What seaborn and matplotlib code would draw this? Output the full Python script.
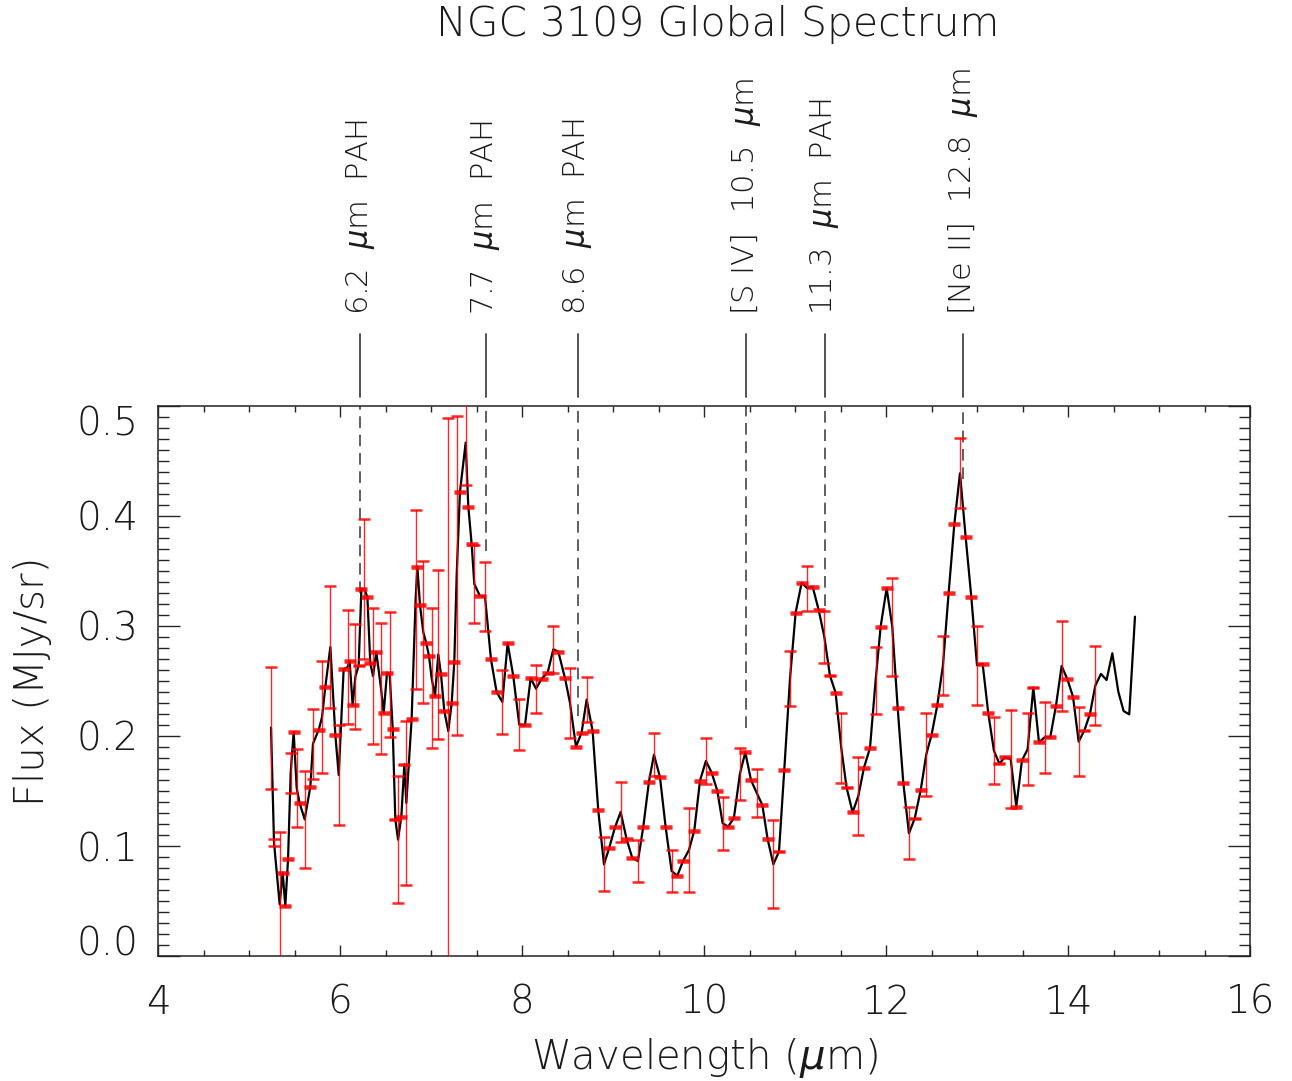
import numpy as np
import matplotlib
matplotlib.use('Agg')
import matplotlib.pyplot as plt
import matplotlib.transforms as mtransforms
from matplotlib.ticker import MultipleLocator, FormatStrFormatter
import seaborn as sns

# spectrum (wavelength in um, flux in MJy/sr, 1-sigma error)
wave = [5.242, 5.275, 5.337, 5.370, 5.399, 5.429, 5.458, 5.491, 5.524, 5.557,
        5.612, 5.674, 5.703, 5.766, 5.802, 5.839, 5.894, 5.949, 5.986, 6.040,
        6.084, 6.106, 6.139, 6.169, 6.205, 6.235, 6.268, 6.301, 6.333, 6.363,
        6.399, 6.451, 6.480, 6.517, 6.546, 6.579, 6.608, 6.638, 6.674, 6.707,
        6.729, 6.787, 6.831, 6.850, 6.879, 6.915, 6.948, 6.978, 7.007, 7.044,
        7.080, 7.110, 7.146, 7.190, 7.227, 7.256, 7.282, 7.318, 7.381, 7.410,
        7.447, 7.476, 7.538, 7.593, 7.659, 7.721, 7.784, 7.842, 7.904, 7.970,
        8.033, 8.095, 8.154, 8.216, 8.282, 8.344, 8.399, 8.472, 8.527, 8.593,
        8.655, 8.710, 8.776, 8.838, 8.901, 8.959, 9.022, 9.084, 9.150, 9.212,
        9.274, 9.333, 9.395, 9.450, 9.516, 9.578, 9.644, 9.706, 9.772, 9.835,
        9.893, 9.956, 10.021, 10.084, 10.146, 10.205, 10.267, 10.329, 10.395, 10.454,
        10.516, 10.578, 10.641, 10.699, 10.762, 10.824, 10.882, 10.945, 11.007, 11.073,
        11.135, 11.194, 11.260, 11.322, 11.384, 11.446, 11.509, 11.567, 11.633, 11.696,
        11.758, 11.824, 11.886, 11.941, 12.007, 12.069, 12.128, 12.190, 12.252, 12.315,
        12.381, 12.443, 12.501, 12.564, 12.626, 12.688, 12.751, 12.813, 12.875, 12.937,
        13.000, 13.062, 13.124, 13.186, 13.245, 13.307, 13.370, 13.432, 13.494, 13.556,
        13.619, 13.681, 13.743, 13.805, 13.868, 13.930, 13.992, 14.055, 14.117, 14.179,
        14.241, 14.300, 14.362, 14.424, 14.487, 14.553, 14.611, 14.673, 14.736]

flux = [0.2076, 0.1030, 0.0470, 0.0758, 0.0455, 0.0879, 0.1667, 0.2036, 0.1527, 0.1388,
        0.1242, 0.1539, 0.1930, 0.2055, 0.2170, 0.2448, 0.2809, 0.2009, 0.1645, 0.2606,
        0.2627, 0.2682, 0.2279, 0.2539, 0.2642, 0.3339, 0.3333, 0.3264, 0.2661, 0.2545,
        0.2764, 0.2430, 0.2212, 0.2576, 0.2561, 0.2067, 0.1242, 0.1058, 0.1267, 0.1742,
        0.1391, 0.2152, 0.3242, 0.3539, 0.3191, 0.2945, 0.2845, 0.2727, 0.2527, 0.2364,
        0.2742, 0.2561, 0.2227, 0.2045, 0.2297, 0.2673, 0.3461, 0.4218, 0.4667, 0.4085,
        0.3742, 0.3382, 0.3273, 0.3270, 0.2697, 0.2400, 0.2309, 0.2845, 0.2545, 0.2103,
        0.2100, 0.2527, 0.2430, 0.2521, 0.2576, 0.2788, 0.2767, 0.2527, 0.2303, 0.1903,
        0.2030, 0.2330, 0.2046, 0.1324, 0.0833, 0.0985, 0.1170, 0.1309, 0.1061, 0.0891,
        0.0864, 0.1176, 0.1585, 0.1830, 0.1627, 0.1176, 0.0773, 0.0730, 0.0867, 0.0964,
        0.1139, 0.1594, 0.1773, 0.1667, 0.1503, 0.1206, 0.1176, 0.1258, 0.1658, 0.1852,
        0.1600, 0.1485, 0.1373, 0.1064, 0.0834, 0.0949, 0.1691, 0.2521, 0.3121, 0.3394,
        0.3343, 0.3358, 0.3146, 0.2903, 0.2549, 0.2394, 0.1888, 0.1531, 0.1306, 0.1455,
        0.1712, 0.1891, 0.2506, 0.2994, 0.3343, 0.2994, 0.2258, 0.1576, 0.1115, 0.1249,
        0.1506, 0.1834, 0.2012, 0.2282, 0.2643, 0.3297, 0.3928, 0.4388, 0.3812, 0.3267,
        0.2643, 0.2655, 0.2206, 0.1867, 0.1749, 0.1806, 0.1791, 0.1358, 0.1779, 0.1879,
        0.2440, 0.1943, 0.1988, 0.1988, 0.2276, 0.2637, 0.2518, 0.2358, 0.1949, 0.2049,
        0.2200, 0.2458, 0.2564, 0.2509, 0.2752, 0.2403, 0.2227, 0.2197, 0.3085]

s = 0.0008  # points whose bar is only the cap
err = [0.0555, 0.003, 0.0658, s, s, s, 0.0182, s, 0.0352, s,
       0.0442, s, 0.0318, s, 0.0509, s, 0.0555, s, 0.0455, s,
       0.0521, s, s, 0.0479, s, s, 0.0636, s, s, 0.0621,
       s, 0.0594, s, s, 0.0570, s, s, 0.0579, s, s,
       0.0745, s, 0.0812, s, s, 0.0642, s, s, 0.0639, s,
       0.0770, s, s, 0.2842, s, s, 0.1448, s, 0.0388, s,
       s, 0.0352, s, 0.0312, s, s, 0.0291, s, s, 0.0230,
       s, s, 0.0218, s, s, 0.0212, s, s, 0.0318, s,
       s, 0.0206, s, s, 0.0245, s, s, 0.0276, s, s,
       0.0191, s, s, 0.0197, s, s, 0.0191, s, s, 0.0379,
       s, s, 0.0206, s, s, 0.0242, s, s, 0.0236, s,
       s, 0.0218, s, s, 0.0400, s, s, 0.0248, s, s,
       0.0203, s, s, 0.0236, s, s, 0.0318, s, s, 0.0358,
       s, s, 0.0306, s, s, 0.0445, s, s, 0.0236, s,
       s, 0.0379, s, s, 0.0267, s, s, 0.0318, s, s,
       0.0358, s, s, 0.0303, s, s, 0.0448, s, s, 0.0327,
       s, s, 0.0324, s, s, 0.0409, s, s, 0.0312, s,
       s, 0.0358, np.nan, np.nan, np.nan, np.nan, np.nan, np.nan, np.nan]

# feature markers
line_names = [r'6.2  $\mu$m  PAH', r'7.7  $\mu$m  PAH', r'8.6  $\mu$m  PAH',
              r'[S IV]  10.5  $\mu$m', r'11.3  $\mu$m  PAH', r'[Ne II]  12.8  $\mu$m']
line_wave = [6.224, 7.600, 8.611, 10.457, 11.329, 12.842]
line_level = [0.330, 0.368, 0.218, 0.207, 0.318, 0.434]

sns.set_style('ticks')
plt.rcParams['font.family'] = ['DejaVu Sans']
plt.rcParams['font.weight'] = 'light'
plt.rcParams['axes.labelweight'] = 'light'
plt.rcParams['mathtext.fontset'] = 'dejavusans'

TXT = '#1a1a1a'
FS = 28

fig = plt.figure(figsize=(12.92, 10.81), dpi=100)
ax = fig.add_axes([158 / 1292, 125 / 1081, 1092 / 1292, 550 / 1081])

wave = np.array(wave)
flux = np.array(flux)
err = np.array(err)
has_err = ~np.isnan(err)

sns.lineplot(x=wave, y=flux, ax=ax, color='black', linewidth=1.6,
             sort=False, estimator=None, zorder=2)
ax.errorbar(wave[has_err], flux[has_err], yerr=err[has_err], fmt='none',
            ecolor='red', elinewidth=1.0, capsize=4, capthick=1.8,
            alpha=0.85, zorder=3)

ax.set_xlim(4, 16)
ax.set_ylim(0, 0.5)

trans = mtransforms.blended_transform_factory(ax.transData, ax.transAxes)
for name, xw, lvl in zip(line_names, line_wave, line_level):
    ax.plot([xw, xw], [lvl, 0.5], color='#444444', linestyle=(0, (7, 4)),
            linewidth=1.2, zorder=1)
    ax.plot([xw, xw], [1.0164, 1.1309], color='#333333', linewidth=1.2,
            transform=trans, clip_on=False)
    ax.text(xw, 1.1655, name, rotation=90, ha='center', va='bottom',
            transform=trans, fontsize=22, color=TXT)

ax.xaxis.set_major_locator(MultipleLocator(2))
ax.xaxis.set_minor_locator(MultipleLocator(0.5))
ax.yaxis.set_major_locator(MultipleLocator(0.1))
ax.yaxis.set_minor_locator(MultipleLocator(0.01))
ax.yaxis.set_major_formatter(FormatStrFormatter('%.1f'))

ax.tick_params(axis='x', which='major', direction='in', length=8, width=1,
               top=True, bottom=True, pad=20, labelsize=FS, labelcolor=TXT)
ax.tick_params(axis='x', which='minor', direction='in', length=4, width=1,
               top=True, bottom=True)
ax.tick_params(axis='y', which='major', direction='in', length=16, width=1,
               left=True, right=True, pad=14, labelsize=FS, labelcolor=TXT)
ax.tick_params(axis='y', which='minor', direction='in', length=8, width=1,
               left=True, right=True)
for sp in ax.spines.values():
    sp.set_visible(True)
    sp.set_linewidth(1.1)
    sp.set_color('#222222')

# end labels sit inside the axis range, as in the original
fig.canvas.draw()
for tick in ax.yaxis.get_major_ticks():
    loc = tick.get_loc()
    if abs(loc) < 1e-9:
        tick.label1.set_va('baseline')
    elif abs(loc - 0.5) < 1e-9:
        tick.label1.set_va('top')

ax.set_xlabel(r'Wavelength ($\mu$m)', fontsize=29, labelpad=10, color=TXT)
ax.set_ylabel('Flux (MJy/sr)', fontsize=29, labelpad=18, color=TXT)
fig.text(718 / 1292, 1 - 25 / 1081, 'NGC 3109 Global Spectrum',
         ha='center', va='center', fontsize=29.5, color=TXT)

fig.savefig('out.png', dpi=100)
